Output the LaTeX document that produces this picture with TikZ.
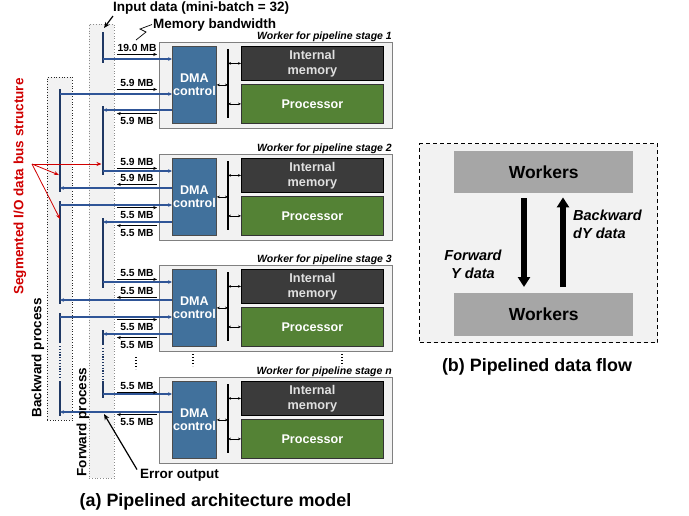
\documentclass[tikz,border=0pt]{standalone}
\usepackage{fontspec}
\setmainfont{Liberation Sans}
\usetikzlibrary{arrows.meta}
\definecolor{dmablue}{HTML}{41719C}
\definecolor{memgray}{HTML}{3B3B3B}
\definecolor{procgreen}{HTML}{548235}
\definecolor{panel}{HTML}{F2F2F2}
\definecolor{busblue}{HTML}{1F3864}
\definecolor{lineblue}{HTML}{2F5597}
\definecolor{wkgray}{HTML}{A6A6A6}
\definecolor{segred}{HTML}{D00000}
\newcommand\myfs[2]{\fontsize{#1}{#2}\selectfont}
\tikzset{
 procbg/.style={anchor=north west, fill=panel, dotted, inner sep=0pt, line width=0.7pt},
 wbox/.style={draw=black!50, line width=1.2pt, fill=panel, inner sep=0pt, anchor=north west, minimum width=233pt, minimum height=86pt},
 dmabox/.style={draw=black!70, line width=0.8pt, fill=dmablue, inner sep=0pt, anchor=north west, minimum width=44pt, minimum height=77pt, text=white, font=\bfseries\myfs{12.6}{13.5}, align=center},
 membox/.style={draw=black, line width=0.8pt, fill=memgray, inner sep=0pt, anchor=north west, minimum width=142pt, minimum height=34pt, text=black!12, font=\bfseries\myfs{12.7}{15}, align=center},
 procbox/.style={draw=black!80, line width=0.8pt, fill=procgreen, inner sep=0pt, anchor=north west, minimum width=142pt, minimum height=39pt, text=white, font=\bfseries\myfs{12.6}{14}},
 wlabel/.style={font=\bfseries\itshape\myfs{10.5}{12}, anchor=base east, inner sep=0pt},
 mb/.style={font=\bfseries\myfs{10.3}{12}, inner sep=0pt, minimum width=40pt, text height=7.4pt, text depth=0pt},
 tinyR/.style={line width=0.8pt, -{Stealth[length=4pt,width=3.2pt]}},
 tinyL/.style={line width=0.8pt, {Stealth[length=4pt,width=3.2pt]}-},
 dbl/.style={line width=0.7pt, {Stealth[length=3pt,width=2.6pt]}-{Stealth[length=3pt,width=2.6pt]}},
 bus/.style={line width=2.4pt, draw=busblue},
 busdot/.style={line width=2.4pt, draw=busblue, dash pattern=on 1.2pt off 1.6pt},
 hline/.style={line width=1.1pt, draw=lineblue, -{Stealth[length=4pt,width=3.6pt]}},
 vdots/.style={line width=1.5pt, dash pattern=on 1.4pt off 1.6pt},
 blk/.style={line width=1.2pt, -{Stealth[length=6pt,width=5pt]}},
 redarr/.style={line width=0.8pt, draw=segred, -{Stealth[length=5pt,width=4pt]}},
 wk/.style={anchor=north west, fill=wkgray, inner sep=0pt, minimum width=179pt, font=\bfseries\myfs{17.5}{20}},
 big/.style={line width=6pt, -{Triangle[length=10pt,width=12pt]}},
 title/.style={font=\bfseries\myfs{17.9}{20}, inner sep=0pt, anchor=base},
 txt/.style={font=\bfseries\myfs{13.5}{15}, inner sep=0pt}
}
\newcommand\mbb[4]{\node[mb] (#1) at (137,#2) {#3}; \draw[tiny#4] ([yshift=-2.5pt]#1.south west) -- ([yshift=-2.5pt]#1.south east);}
\newcommand\mba[4]{\node[mb] (#1) at (137,#2) {#3}; \draw[tiny#4] ([yshift=3.5pt]#1.north west) -- ([yshift=3.5pt]#1.north east);}
\begin{document}
\begin{tikzpicture}[x=1pt,y=-1pt]
\useasboundingbox (0,0) rectangle (689,515);

% process regions
\node[procbg, draw=black!85, minimum width=25pt, minimum height=343pt] (bwdbox) at (47,77) {};
\node[procbg, draw=black!45, minimum width=25pt, minimum height=454pt] (fwdbox) at (89,24) {};

% workers
\foreach \T/\i/\lab in {42/1/1,154/2/2,265/3/3,377/4/n}{
  \node[wbox] (w\i) at (159,\T) {};
  \node[wlabel] (wl\i) at (392,\T-2.5) {Worker for pipeline stage \lab};
  \node[dmabox] (dma\i) at (172,\T+4) {DMA\\control};
  \node[membox] (mem\i) at (241,\T+4) {Internal\\memory};
  \node[procbox] (proc\i) at (241,\T+42) {Processor};
  \coordinate (bt\i) at (228,\T+7);
  \coordinate (bb\i) at (228,\T+76);
  \draw[line width=1.6pt] (bt\i) -- (bb\i);
  \draw[dbl] (dma\i.east) -- (dma\i.east -| bt\i);
  \draw[dbl] (mem\i.west -| bt\i) -- (mem\i.west);
  \draw[dbl] (proc\i.west -| bt\i) -- (proc\i.west);
}

% forward bus segments
\coordinate (fa0) at (103,32);  \coordinate (fb0) at (103,63);
\coordinate (fa1) at (103,106); \coordinate (fb1) at (103,175);
\coordinate (fa2) at (103,218); \coordinate (fb2) at (103,288);
\coordinate (fa3) at (103,330); \coordinate (fb3) at (103,345);
\coordinate (fc3) at (103,348); \coordinate (fd3) at (103,379);
\coordinate (fe3) at (103,381); \coordinate (ff3) at (103,398);
\draw[bus] (fa0) -- (fb0);
\draw[bus] (fa1) -- (fb1);
\draw[bus] (fa2) -- (fb2);
\draw[bus] (fa3) -- (fb3);
\draw[busdot] (fc3) -- (fd3);
\draw[bus] (fe3) -- (ff3);
% backward bus segments
\coordinate (ba1) at (60,89);  \coordinate (bb1) at (60,192);
\coordinate (ba2) at (60,201); \coordinate (bb2) at (60,304);
\coordinate (ba3) at (60,313); \coordinate (bb3) at (60,343);
\coordinate (bc3) at (60,346); \coordinate (bd3) at (60,379);
\coordinate (be3) at (60,381); \coordinate (bf3) at (60,416);
\draw[bus] (ba1) -- (bb1);
\draw[bus] (ba2) -- (bb2);
\draw[bus] (ba3) -- (bb3);
\draw[busdot] (bc3) -- (bd3);
\draw[bus] (be3) -- (bf3);

% data lines
\coordinate (f0i) at (103,59);  \draw[hline] (f0i) -- (f0i -| dma1.west);
\coordinate (b1i) at (60,94);   \draw[hline] (b1i) -- (b1i -| dma1.west);
\coordinate (f1o) at (103,110); \draw[hline] (f1o -| dma1.west) -- (f1o);
\coordinate (f1i) at (103,171); \draw[hline] (f1i) -- (f1i -| dma2.west);
\coordinate (b1o) at (60,188);  \draw[hline] (b1o -| dma2.west) -- (b1o);
\coordinate (b2i) at (60,205);  \draw[hline] (b2i) -- (b2i -| dma2.west);
\coordinate (f2o) at (103,222); \draw[hline] (f2o -| dma2.west) -- (f2o);
\coordinate (f2i) at (103,282); \draw[hline] (f2i) -- (f2i -| dma3.west);
\coordinate (b2o) at (60,300);  \draw[hline] (b2o -| dma3.west) -- (b2o);
\coordinate (b3i) at (60,317);  \draw[hline] (b3i) -- (b3i -| dma3.west);
\coordinate (f3o) at (103,334); \draw[hline] (f3o -| dma3.west) -- (f3o);
\coordinate (f3i) at (103,394); \draw[hline] (f3i) -- (f3i -| dma4.west);
\coordinate (b3o) at (60,412);  \draw[hline] (b3o -| dma4.west) -- (b3o);

% bandwidth labels
\mbb{l11}{48}{19.0 MB}{R}
\mbb{l12}{83}{5.9 MB}{R}
\mba{l13}{121}{5.9 MB}{L}
\mbb{l21}{162}{5.9 MB}{R}
\mbb{l22}{178}{5.9 MB}{L}
\mba{l23}{215}{5.5 MB}{R}
\mba{l24}{233}{5.5 MB}{L}
\mbb{l31}{273}{5.5 MB}{R}
\mbb{l32}{291}{5.5 MB}{L}
\mba{l33}{327}{5.5 MB}{R}
\mba{l34}{345}{5.5 MB}{L}
\mbb{l41}{386}{5.5 MB}{R}
\mba{l42}{422}{5.5 MB}{L}

% vertical ellipses
\coordinate (d1a) at (136,357); \coordinate (d1b) at (136,369); \draw[vdots] (d1a) -- (d1b);
\coordinate (d2a) at (193,354); \coordinate (d2b) at (193,366); \draw[vdots] (d2a) -- (d2b);
\coordinate (d3a) at (342,354); \coordinate (d3b) at (342,366); \draw[vdots] (d3a) -- (d3b);

% annotations
\node[txt, anchor=base west] (inp) at (113,11) {Input data (mini-batch = 32)};
\coordinate (inptip) at (104,28);
\draw[blk] ([yshift=-2pt]inp.south west) -- (inptip);
\node[txt, anchor=base west] (mbw) at (153,28) {Memory bandwidth};
\coordinate (zz1) at (140,29); \coordinate (zz2) at (146,32); \coordinate (zz3) at (136,40);
\draw[line width=0.7pt] ([xshift=-1pt]mbw.west) -- (zz1) -- (zz2) -- (zz3);
\node[txt, anchor=base west] (err) at (140,478) {Error output};
\coordinate (errtip) at (104,414);
\draw[blk] ([xshift=-3pt,yshift=-1pt]err.north west) -- (errtip);

\node[txt, rotate=90, text=segred] (seg) at (20,186.5) {Segmented I/O data bus structure};
\coordinate (rs) at (32,164);
\coordinate (rt1) at (101.5,164); \coordinate (rt2) at (59,175); \coordinate (rt3) at (60,219);
\draw[redarr] (rs) -- (rt1);
\draw[redarr] (rs) -- (rt2);
\draw[redarr] (rs) -- (rt3);
\node[txt, rotate=90] (bwdtxt) at (38,358) {Backward process};
\node[txt, rotate=90] (fwdtxt) at (83,422) {Forward process};

\node[title] (ta) at (215.5,506.5) {(a) Pipelined architecture model};

% right panel
\node[draw, fill=panel, line width=1pt, dash pattern=on 4pt off 3pt, anchor=north west, minimum width=238pt, minimum height=199pt, inner sep=0pt] (rp) at (419,143) {};
\node[wk, minimum height=42pt] (wtop) at (454,151) {Workers};
\node[wk, minimum height=43pt] (wbot) at (454,293) {Workers};
\coordinate (dnx) at (524,0); \coordinate (upx) at (563,0);
\draw[big] ([yshift=-5pt]wtop.south -| dnx) -- ([yshift=6pt]wbot.north -| dnx);
\draw[big] ([yshift=6pt]wbot.north -| upx) -- ([yshift=-4pt]wtop.south -| upx);
\node[font=\bfseries\itshape\myfs{14.5}{17.5}, align=center, inner sep=0pt] (fy) at (473,264.5) {Forward\\Y data};
\node[font=\bfseries\itshape\myfs{14.5}{18.5}, align=left, inner sep=0pt, anchor=west] (bdy) at (573,224.5) {Backward\\dY data};
\node[title] (tb) at (537,371.5) {(b) Pipelined data flow};
\end{tikzpicture}
\end{document}
